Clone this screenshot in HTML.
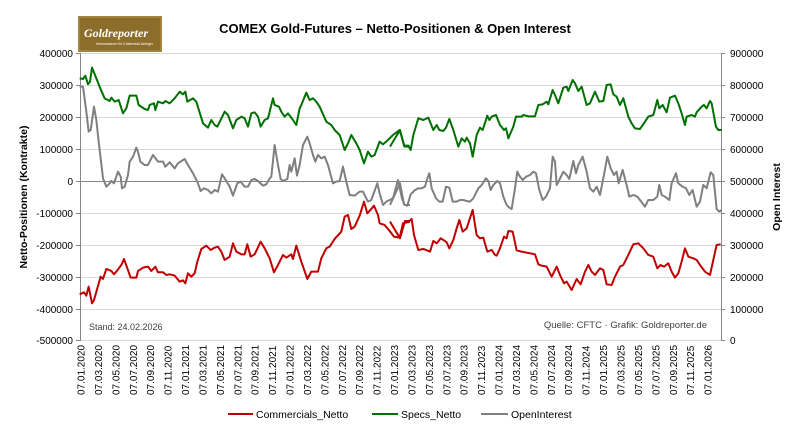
<!DOCTYPE html>
<html><head><meta charset="utf-8"><style>
html,body{margin:0;padding:0;background:#fff;}
svg{display:block;font-family:"Liberation Sans",sans-serif;}
</style></head><body>
<svg width="796" height="431" viewBox="0 0 796 431" xmlns="http://www.w3.org/2000/svg">
<rect x="0" y="0" width="796" height="431" fill="#fff"/>
<!-- logo -->
<rect x="78" y="16" width="84" height="36" fill="#8c6d2a"/>
<rect x="79" y="17" width="82" height="34" fill="none" stroke="#b99a52" stroke-width="1"/>
<text x="84" y="37" font-size="12" font-style="italic" font-weight="bold" fill="#fff" font-family="Liberation Serif,serif">Goldreporter</text>
<text x="96" y="45" font-size="3.5" fill="#fff">Informationen für Edelmetall-Anleger</text>
<text x="395" y="33" font-size="13" font-weight="bold" text-anchor="middle" fill="#000">COMEX Gold-Futures – Netto-Positionen &amp; Open Interest</text>
<!-- gridlines -->
<g stroke="#d9d9d9" stroke-width="1">
<line x1="80" x2="721" y1="53.5" y2="53.5"/><line x1="80" x2="721" y1="85.5" y2="85.5"/><line x1="80" x2="721" y1="117.5" y2="117.5"/><line x1="80" x2="721" y1="149.5" y2="149.5"/><line x1="80" x2="721" y1="213.5" y2="213.5"/><line x1="80" x2="721" y1="245.5" y2="245.5"/><line x1="80" x2="721" y1="277.5" y2="277.5"/><line x1="80" x2="721" y1="309.5" y2="309.5"/><line x1="80" x2="721" y1="340.5" y2="340.5"/>
</g>
<line x1="80" x2="721" y1="181.5" y2="181.5" stroke="#868686"/>
<line x1="80.5" x2="80.5" y1="53" y2="341" stroke="#868686"/>
<line x1="721.5" x2="721.5" y1="53" y2="341" stroke="#868686"/>
<g stroke="#868686">
<line x1="76" x2="80" y1="53.5" y2="53.5"/><line x1="76" x2="80" y1="85.5" y2="85.5"/><line x1="76" x2="80" y1="117.5" y2="117.5"/><line x1="76" x2="80" y1="149.5" y2="149.5"/><line x1="76" x2="80" y1="181.5" y2="181.5"/><line x1="76" x2="80" y1="213.5" y2="213.5"/><line x1="76" x2="80" y1="245.5" y2="245.5"/><line x1="76" x2="80" y1="277.5" y2="277.5"/><line x1="76" x2="80" y1="309.5" y2="309.5"/><line x1="76" x2="80" y1="340.5" y2="340.5"/>
<line x1="721" x2="725" y1="53.5" y2="53.5"/><line x1="721" x2="725" y1="85.5" y2="85.5"/><line x1="721" x2="725" y1="117.5" y2="117.5"/><line x1="721" x2="725" y1="149.5" y2="149.5"/><line x1="721" x2="725" y1="181.5" y2="181.5"/><line x1="721" x2="725" y1="213.5" y2="213.5"/><line x1="721" x2="725" y1="245.5" y2="245.5"/><line x1="721" x2="725" y1="277.5" y2="277.5"/><line x1="721" x2="725" y1="309.5" y2="309.5"/><line x1="721" x2="725" y1="340.5" y2="340.5"/>
</g>
<g font-size="10" fill="#000" text-anchor="end">
<text x="73" y="57">400000</text><text x="73" y="89">300000</text><text x="73" y="121">200000</text><text x="73" y="153">100000</text><text x="73" y="185">0</text><text x="73" y="217">-100000</text><text x="73" y="249">-200000</text><text x="73" y="281">-300000</text><text x="73" y="313">-400000</text><text x="73" y="344">-500000</text>
</g>
<g font-size="10" fill="#000">
<text x="730" y="57">900000</text><text x="730" y="89">800000</text><text x="730" y="121">700000</text><text x="730" y="153">600000</text><text x="730" y="185">500000</text><text x="730" y="217">400000</text><text x="730" y="249">300000</text><text x="730" y="281">200000</text><text x="730" y="313">100000</text><text x="730" y="344">0</text>
</g>
<text transform="translate(27,197) rotate(-90)" font-size="10.5" font-weight="bold" text-anchor="middle">Netto-Positionen (Kontrakte)</text>
<text transform="translate(780,197) rotate(-90)" font-size="10.5" font-weight="bold" text-anchor="middle">Open Interest</text>
<text x="89" y="330" font-size="9" fill="#404040">Stand: 24.02.2026</text>
<text x="707" y="328" font-size="9.5" fill="#404040" text-anchor="end">Quelle: CFTC · Grafik: Goldreporter.de</text>
<g id="xl" font-size="10" fill="#000"></g>
<!-- series -->
<g fill="none" stroke-width="2" stroke-linejoin="round">
<g transform="translate(78,55) scale(0.3333)">
<polyline vector-effect="non-scaling-stroke" stroke="#7f7f7f" points="5,95 15,95 25,170 32,230 38,225 48,155 55,195 62,260 68,310 75,370 85,395 95,385 100,378 108,385 120,350 128,365 132,400 140,395 150,360 155,320 165,305 175,278 180,290 187,320 200,330 210,330 225,300 240,320 255,320 262,335 275,322 290,340 300,325 320,312 330,330 345,355 358,380 368,408 378,400 390,405 400,415 410,405 420,410 432,358 440,370 455,395 465,422 478,385 488,380 500,395 510,395 520,375 530,372 540,378 555,392 565,388 575,370 580,365 590,270 600,330 608,372 615,378 628,372 635,330 640,350 650,310 657,362 665,330 675,270 688,245 695,265 705,300 712,320 720,300 730,310 740,305 750,330 765,385 775,380 785,378 795,335 805,380 815,420 830,422 845,410 855,410 870,440 880,435 898,385 905,415 915,450 925,440 935,435 945,430 960,375 972,430 980,450 996,450"/>
<polyline vector-effect="non-scaling-stroke" stroke="#007000" points="5,70 15,72 22,62 30,88 36,80 42,38 55,70 68,103 80,130 95,138 100,128 110,140 122,135 135,175 145,160 155,122 175,122 182,150 200,162 210,165 215,150 228,145 232,165 240,140 255,145 262,138 275,145 290,130 305,110 315,118 322,110 328,140 345,130 355,140 375,205 390,218 400,195 410,210 418,215 440,170 450,180 465,220 475,195 490,185 500,190 510,215 520,175 530,172 540,185 548,215 560,195 570,190 585,130 590,150 603,155 610,170 620,185 630,175 645,195 655,210 665,160 670,150 685,113 695,135 705,130 715,140 725,155 745,200 760,210 770,225 785,240 800,285 810,265 820,240 835,265 845,285 858,325 870,290 880,305 890,300 905,260 915,268 930,255 945,240 965,225 980,275 996,275"/>
<polyline vector-effect="non-scaling-stroke" stroke="#c00000" points="5,718 18,712 25,722 32,695 42,745 48,735 58,700 68,665 75,672 85,642 100,648 108,658 118,646 130,630 138,612 148,640 158,668 175,668 180,648 195,638 210,635 220,648 232,635 240,652 255,652 265,660 275,658 290,662 305,680 315,676 322,685 330,655 340,665 350,655 358,620 370,582 385,572 398,585 410,578 420,575 430,590 440,615 455,605 465,565 475,590 490,598 500,598 508,568 518,605 530,598 548,560 560,580 575,610 588,652 600,630 615,600 625,608 640,598 645,612 655,572 670,620 688,672 700,650 712,650 720,650 730,610 745,580 755,575 770,552 790,530 800,485 810,480 820,522 830,515 845,482 858,440 868,475 880,462 888,452 900,480 905,505 920,510 935,528 948,545 965,548 975,505 996,500"/>
</g>
<g transform="translate(400,55) scale(0.3333)">
<polyline vector-effect="non-scaling-stroke" stroke="#7f7f7f" points="-30,450 0,385 12,448 22,452 32,418 45,405 55,400 65,400 75,395 82,370 88,355 95,400 108,430 118,440 128,440 138,395 148,398 158,440 170,440 180,435 190,435 200,438 210,440 220,430 235,400 245,390 258,370 265,378 272,405 280,390 292,378 300,385 310,425 320,450 328,458 335,462 345,400 352,350 358,362 368,375 378,365 390,360 400,350 408,355 418,405 428,435 438,425 450,400 458,305 465,320 470,390 478,375 490,350 500,360 508,372 520,318 528,355 535,330 548,305 560,350 570,400 580,410 590,395 600,420 612,360 622,305 632,340 642,360 650,350 656,385 668,345 680,390 688,425 700,420 712,425 720,435 735,455 745,435 760,435 772,425 778,390 785,420 795,425 808,435 815,385 828,355 835,385 848,395 858,400 868,420 878,405 890,455 900,440 910,390 920,400 932,352 940,360 950,462 958,470 965,465"/>
<polyline vector-effect="non-scaling-stroke" stroke="#007000" points="-30,275 0,225 12,272 25,272 32,285 40,240 55,190 70,195 85,188 100,225 110,210 118,225 130,228 138,218 148,192 160,225 175,275 185,250 195,260 200,248 210,265 218,305 230,240 240,218 248,225 262,182 268,195 275,185 288,180 300,210 312,225 318,220 325,250 340,215 348,185 365,185 370,180 385,184 405,184 415,150 428,148 440,140 445,148 458,105 465,120 475,145 490,98 500,95 505,108 518,75 525,85 535,108 545,95 560,150 570,145 585,110 598,140 610,138 620,90 632,88 640,118 650,125 660,150 670,130 685,185 695,205 705,220 720,222 735,200 745,185 760,180 772,135 778,160 788,150 800,172 810,128 825,122 835,145 845,175 855,210 860,185 875,180 885,185 890,172 905,155 912,150 920,160 930,138 935,145 948,215 955,225 965,225"/>
<polyline vector-effect="non-scaling-stroke" stroke="#c00000" points="-30,500 0,550 15,498 28,498 35,492 42,540 55,585 70,582 78,585 90,590 100,558 110,565 122,550 130,555 140,562 148,580 160,555 170,520 178,495 188,530 200,520 218,465 230,540 240,550 250,548 262,590 275,585 285,600 290,602 300,580 312,545 320,550 325,528 338,530 350,586 365,590 375,592 390,595 405,598 415,628 425,632 440,635 455,665 470,635 480,660 492,685 500,680 515,705 530,672 542,688 555,650 565,630 575,650 585,660 600,640 610,645 620,688 635,690 645,665 660,635 670,630 685,600 700,568 715,565 730,580 745,600 760,605 772,640 782,630 792,635 805,625 815,650 825,668 835,655 845,620 855,580 865,605 880,610 890,615 900,630 915,650 930,660 940,615 950,570 962,568"/>
</g>
</g>
<!-- legend -->
<line x1="228" x2="253" y1="414" y2="414" stroke="#c00000" stroke-width="2"/>
<text x="256" y="418" font-size="10.5">Commercials_Netto</text>
<line x1="372" x2="398" y1="414" y2="414" stroke="#007000" stroke-width="2"/>
<text x="401" y="418" font-size="10.5">Specs_Netto</text>
<line x1="481" x2="508" y1="414" y2="414" stroke="#7f7f7f" stroke-width="2"/>
<text x="511" y="418" font-size="10.5">OpenInterest</text>
<g font-size="10" fill="#000">
<text transform="translate(84.5,395) rotate(-90)">07.01.2020</text>
<text transform="translate(101.9,395) rotate(-90)">07.03.2020</text>
<text transform="translate(119.3,395) rotate(-90)">07.05.2020</text>
<text transform="translate(136.8,395) rotate(-90)">07.07.2020</text>
<text transform="translate(154.2,395) rotate(-90)">07.09.2020</text>
<text transform="translate(171.6,395) rotate(-90)">07.11.2020</text>
<text transform="translate(189.0,395) rotate(-90)">07.01.2021</text>
<text transform="translate(206.4,395) rotate(-90)">07.03.2021</text>
<text transform="translate(223.9,395) rotate(-90)">07.05.2021</text>
<text transform="translate(241.3,395) rotate(-90)">07.07.2021</text>
<text transform="translate(258.7,395) rotate(-90)">07.09.2021</text>
<text transform="translate(276.1,395) rotate(-90)">07.11.2021</text>
<text transform="translate(293.5,395) rotate(-90)">07.01.2022</text>
<text transform="translate(311.0,395) rotate(-90)">07.03.2022</text>
<text transform="translate(328.4,395) rotate(-90)">07.05.2022</text>
<text transform="translate(345.8,395) rotate(-90)">07.07.2022</text>
<text transform="translate(363.2,395) rotate(-90)">07.09.2022</text>
<text transform="translate(380.6,395) rotate(-90)">07.11.2022</text>
<text transform="translate(398.0,395) rotate(-90)">07.01.2023</text>
<text transform="translate(415.5,395) rotate(-90)">07.03.2023</text>
<text transform="translate(432.9,395) rotate(-90)">07.05.2023</text>
<text transform="translate(450.3,395) rotate(-90)">07.07.2023</text>
<text transform="translate(467.7,395) rotate(-90)">07.09.2023</text>
<text transform="translate(485.1,395) rotate(-90)">07.11.2023</text>
<text transform="translate(502.6,395) rotate(-90)">07.01.2024</text>
<text transform="translate(520.0,395) rotate(-90)">07.03.2024</text>
<text transform="translate(537.4,395) rotate(-90)">07.05.2024</text>
<text transform="translate(554.8,395) rotate(-90)">07.07.2024</text>
<text transform="translate(572.2,395) rotate(-90)">07.09.2024</text>
<text transform="translate(589.7,395) rotate(-90)">07.11.2024</text>
<text transform="translate(607.1,395) rotate(-90)">07.01.2025</text>
<text transform="translate(624.5,395) rotate(-90)">07.03.2025</text>
<text transform="translate(641.9,395) rotate(-90)">07.05.2025</text>
<text transform="translate(659.3,395) rotate(-90)">07.07.2025</text>
<text transform="translate(676.8,395) rotate(-90)">07.09.2025</text>
<text transform="translate(694.2,395) rotate(-90)">07.11.2025</text>
<text transform="translate(711.6,395) rotate(-90)">07.01.2026</text>
</g>
</svg>
</body></html>
